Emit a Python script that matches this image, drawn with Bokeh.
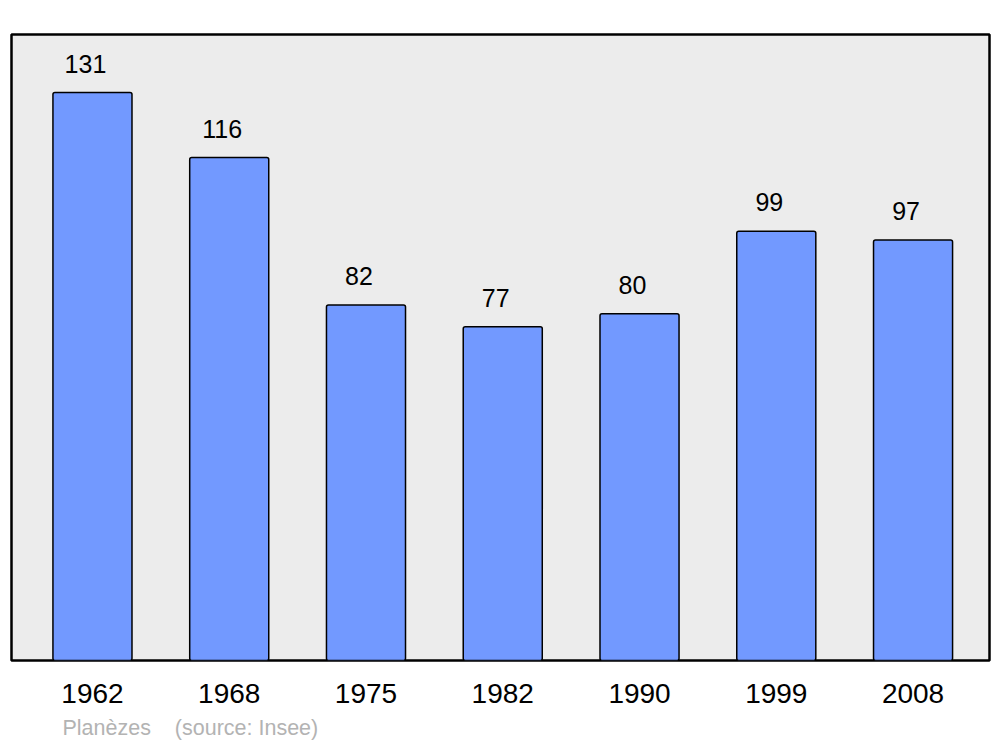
from bokeh.plotting import figure
from bokeh.models import ColumnDataSource, FixedTicker, Range1d, Title
from bokeh.core.properties import value
from bokeh.embed import file_html
from bokeh.resources import INLINE

years = ["1962", "1968", "1975", "1982", "1990", "1999", "2008"]
population = [131, 116, 82, 77, 80, 99, 97]
footer_text = "Planèzes\u00a0\u00a0\u00a0\u00a0(source: Insee)"

xs = list(range(len(years)))
src = ColumnDataSource(dict(x=xs, top=population, label=[str(v) for v in population]))

p = figure(width=1000, height=747, output_backend="svg", toolbar_location=None,
           x_range=Range1d(-0.592, 6.559), y_range=Range1d(0, 144.4),
           y_axis_location=None, min_border_left=11, min_border_right=11,
           min_border_top=34, min_border_bottom=87)
p.background_fill_color = "#ececec"
p.border_fill_color = "white"
p.outline_line_color = "black"
p.outline_line_width = 2.5
p.grid.visible = False

p.vbar(x="x", top="top", bottom=0, width=0.578, source=src,
       fill_color="#7299ff", line_color="black", line_width=1.5, border_radius=2)
p.text(x="x", y="top", text="label", source=src, text_align="center",
       text_baseline="bottom", x_offset=-7, y_offset=-20,
       text_font=value("Liberation Sans"),
       text_font_size="25px", text_color="black")

ax = p.xaxis[0]
ax.ticker = FixedTicker(ticks=xs)
ax.major_label_overrides = {i: y for i, y in enumerate(years)}
ax.axis_line_color = None
ax.major_tick_line_color = None
ax.minor_tick_line_color = None
ax.major_tick_in = 0
ax.major_tick_out = 0
ax.major_label_standoff = 23
ax.major_label_text_font = "Liberation Sans"
ax.major_label_text_font_size = "28px"
ax.major_label_text_color = "black"

t = Title(text=footer_text, align="left", offset=51, standoff=16,
          text_font="Liberation Sans", text_font_size="21.5px",
          text_font_style="normal", text_color="#b3b3b3")
p.add_layout(t, "below")

open("out.html", "w").write(file_html(p, INLINE))
